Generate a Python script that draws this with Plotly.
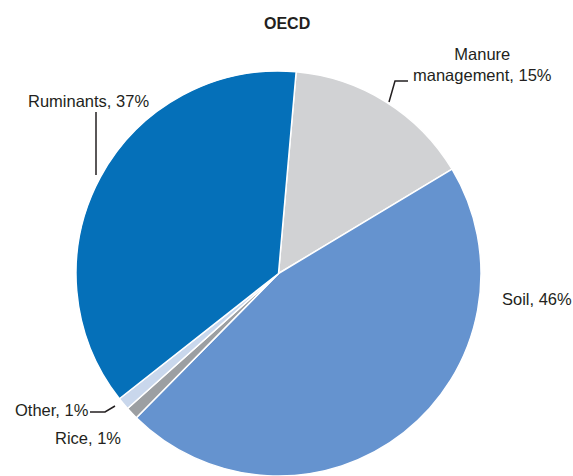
import plotly.graph_objects as go

labels = ['Manure management', 'Soil', 'Rice', 'Other', 'Ruminants']
shares = [15, 46, 1, 1, 37]
slice_colors = ['#D1D2D4', '#6593CF', '#9C9FA2', '#C9D7EC', '#0570B9']

W, H = 573, 476
font_name = 'Liberation Sans, Arial'
text_color = '#231F20'


def px(x):
    return x / W


def py(y):
    return 1 - y / H


fig = go.Figure(data=[go.Pie(labels=labels, values=shares, sort=False,
                             direction='clockwise', rotation=5,
                             textinfo='none', hoverinfo='label+percent',
                             showlegend=False,
                             marker=dict(colors=slice_colors, line=dict(color='white', width=1.5)),
                             domain=dict(x=[px(76), px(481)], y=[0, py(71)]))])

fig.update_layout(
    width=W, height=H,
    margin=dict(l=0, r=0, t=0, b=0),
    paper_bgcolor='white',
    plot_bgcolor='white',
    font=dict(family=font_name, size=16.5, color=text_color),
)

fig.add_annotation(text='<b>OECD</b>', xref='paper', yref='paper', x=px(287), y=py(23),
                   xanchor='center', yanchor='middle', showarrow=False, font=dict(size=16))

# labels: (text, x, y, anchor)
label_pos = [
    ('Ruminants, 37%', 26, 101, 'left'),
    ('Manure<br>management, 15%', 482, 65, 'center'),
    ('Soil, 46%', 500, 299, 'left'),
    ('Other, 1%', 13, 410, 'left'),
    ('Rice, 1%', 53, 438, 'left'),
]
for txt, x, y, anchor in label_pos:
    fig.add_annotation(text=txt, xref='paper', yref='paper', x=px(x), y=py(y),
                       xanchor=anchor, yanchor='middle', align='center',
                       showarrow=False)

# leader lines
leaders = [
    [(96, 112), (96, 175)],
    [(389, 102), (395, 81), (408, 81)],
    [(90, 412), (105, 412), (115, 406)],
]
for pts in leaders:
    path = 'M ' + ' L '.join(f'{px(x)},{py(y)}' for x, y in pts)
    fig.add_shape(type='path', path=path, xref='paper', yref='paper',
                  line=dict(color=text_color, width=1.5))

# drop the default body margin so the figure fills the window exactly
fig.write_html('out.html', config={'displayModeBar': False},
               post_script="document.body.style.margin = '0';")
